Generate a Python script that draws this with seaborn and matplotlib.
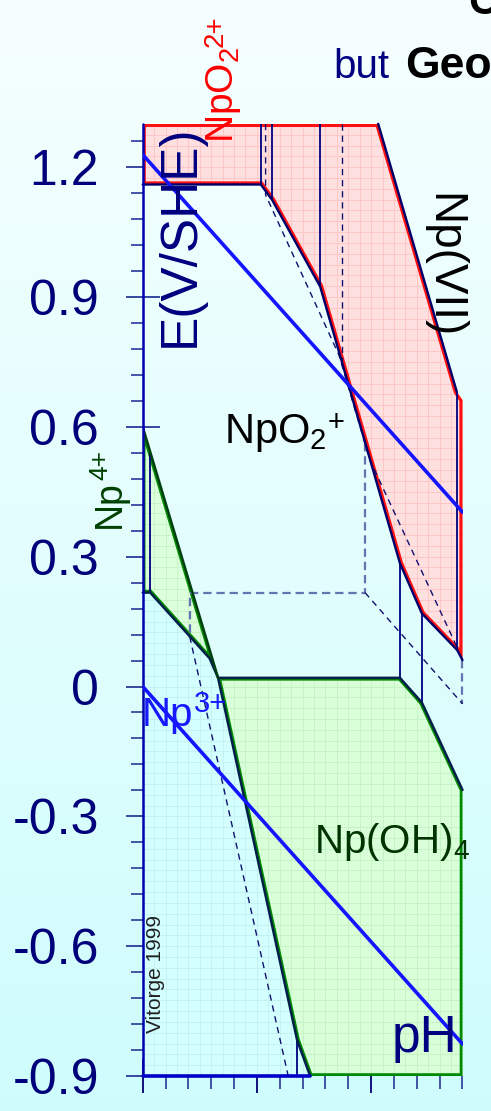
import numpy as np
import pandas as pd
import matplotlib
matplotlib.use("Agg")
import matplotlib.pyplot as plt
from matplotlib.patches import Polygon
import seaborn as sns

sns.set_theme(style="white")
plt.rcParams['font.family'] = ['Liberation Sans', 'DejaVu Sans']
plt.rcParams['mathtext.default'] = 'regular'
plt.rcParams['lines.scale_dashes'] = False

# ---- water stability limits (E in V/SHE versus pH) ----
water_ph = [0, 14]
o2_e = [1.229, 0.403]
h2_e = [0.0, -0.826]

# ---- predominance domains ----
# NpO2(2+) / Np(VII)
np6_ph = [0, 10.31, 13.75, 14.0, 14.0, 13.77, 12.22, 11.26, 7.77, 5.67, 5.17, 0]
np6_e = [1.30, 1.30, 0.681, 0.662, 0.061, 0.084, 0.169, 0.285, 0.924, 1.124, 1.160, 1.160]
# Np4+
np4_ph = [0, 3.30, 2.93, 0.33, 0]
np4_e = [0.60, 0.020, 0.065, 0.217, 0.217]
# Np3+
np3_ph = [0, 0.33, 2.93, 3.30, 6.76, 7.33, 0]
np3_e = [0.217, 0.217, 0.065, 0.020, -0.817, -0.90, -0.90]
# Np(OH)4
npoh_ph = [3.30, 11.26, 12.22, 14.0, 14.0, 7.33, 6.76]
npoh_e = [0.020, 0.020, -0.037, -0.239, -0.90, -0.90, -0.817]

# boundaries
b56_ph = [0, 5.17, 5.67, 7.77, 11.26, 12.22, 13.77, 14.0]
b56_e = [1.160, 1.160, 1.124, 0.924, 0.285, 0.169, 0.084, 0.061]
b67_ph = [10.31, 13.75]
b67_e = [1.30, 0.681]
b34_ph = [0, 0.33, 2.93, 3.30]
b34_e = [0.217, 0.217, 0.065, 0.020]
b45_ph = [0, 3.30]
b45_e = [0.60, 0.020]
boh_ph = [3.30, 11.26, 12.22, 14.0]
boh_e = [0.020, 0.020, -0.037, -0.239]
b3oh_ph = [3.30, 6.76, 7.33]
b3oh_e = [0.020, -0.817, -0.90]

# vertical construction lines: (pH, E top, E bottom)
vert_ph = [5.17, 5.67, 7.77, 13.77, 11.26, 12.22, 0.33, 6.76]
vert_top = [1.30, 1.30, 1.30, 0.681, 0.285, 0.169, 0.539, -0.817]
vert_bot = [1.160, 1.124, 0.924, 0.084, 0.020, -0.037, 0.217, -0.90]

# hidden edges
d1_ph = [5.38, 5.38, 8.59, 9.95, 13.75]
d1_e = [1.30, 1.136, 0.766, 0.523, 0.092]
d2_ph = [8.74, 8.74]
d2_e = [1.30, 0.751]
d3_ph = [2.06, 6.37]
d3_e = [0.115, -0.90]
d4_ph = [9.73, 14.0]
d4_e = [0.217, -0.040]
d5_ph = [9.73, 9.73, 2.06, 2.06]
d5_e = [0.562, 0.217, 0.217, 0.115]
d6_ph = [14.0, 14.0]
d6_e = [0.061, -0.040]

ytick_vals = [-0.9, -0.6, -0.3, 0.0, 0.3, 0.6, 0.9, 1.2]
ytick_labels = ['-0.9', '-0.6', '-0.3', '0', '0.3', '0.6', '0.9', '1.2']
xtick_major = [0, 5, 10]

W, H = 491, 1111
fig = plt.figure(figsize=(W / 100, H / 100), dpi=100)

# background gradient
bg = fig.add_axes([0, 0, 1, 1], zorder=-10)
t = np.linspace(0, 1, 256)[:, None]
top = np.array([0.965, 1.0, 1.0])
bot = np.array([0.81, 0.99, 0.99])
grad = top[None, None, :] * (1 - t[..., None]) + bot[None, None, :] * t[..., None]
grad = np.repeat(grad, 4, axis=1)
bg.imshow(grad, aspect='auto', extent=[0, 1, 0, 1])
bg.axis('off')

x0, x1 = 142.7, 462.5
y_top, y_bot = 123.9, 1076.0
ax = fig.add_axes([x0 / W, 1 - y_bot / H, (x1 - x0) / W, (y_bot - y_top) / H])
ax.set_facecolor('none')
ax.set_xlim(0, 14)
ax.set_ylim(-0.9, 1.30)
for s in ax.spines.values():
    s.set_visible(False)


def region(ph, e, face, edge, lw, grid):
    pts = np.column_stack([ph, e])
    p = Polygon(pts, closed=True, facecolor=face, edgecolor='none', zorder=1)
    ax.add_patch(p)
    gx = np.arange(0, 14.01, 0.5)
    gy = np.arange(-0.9, 1.31, 0.025)
    v = ax.vlines(gx, -0.9, 1.3, colors=grid, lw=0.7, zorder=1.1)
    h = ax.hlines(gy, 0, 14, colors=grid, lw=0.7, zorder=1.1)
    v.set_clip_path(p)
    h.set_clip_path(p)
    if lw > 0:
        ed = Polygon(pts, closed=True, facecolor='none', edgecolor=edge, lw=lw,
                     zorder=1.2)
        ax.add_patch(ed)
        ed.set_clip_path(p)
    return p


region(np3_ph, np3_e, '#d3ffff', '#d3ffff', 0, '#c4f2f2')
region(np4_ph, np4_e, '#dcffdc', '#008a00', 4, '#c6f4c6')
region(npoh_ph, npoh_e, '#d8ffd8', '#008a00', 4, '#c4f4c4')
region(np6_ph, np6_e, '#ffe0e0', '#ff1010', 4.5, '#ffc6c6')

navy = '#000080'
# hidden edges
light = dict(color='#6474b0', lw=1.6, dashes=(6, 3.5), zorder=2)
dark = dict(color='#101070', lw=1.0, dashes=(4.5, 3.5), zorder=2)
ax.plot(d5_ph, d5_e, **light)
ax.plot(d6_ph, d6_e, clip_on=False, **light)
for px, py in [(d1_ph, d1_e), (d2_ph, d2_e), (d3_ph, d3_e), (d4_ph, d4_e)]:
    ax.plot(px, py, **dark)

# vertical construction lines
ax.vlines(vert_ph, vert_bot, vert_top, colors=navy, lw=1.3, zorder=3)

# domain boundaries
for px, py in [(b56_ph, b56_e), (b67_ph, b67_e)]:
    ax.plot(px, py, color='#00006a', lw=1.7, zorder=3, clip_on=False)
for px, py in [(b34_ph, b34_e), (boh_ph, boh_e), (b3oh_ph, b3oh_e)]:
    ax.plot(px, py, color='#00204a', lw=1.8, zorder=3, clip_on=False)
ax.plot(b45_ph, b45_e, color='#004010', lw=1.8, zorder=3)

# axis lines
ax.plot([0, 0], [-0.9, 1.30], color='#0000b0', lw=1.8, zorder=3, clip_on=False)
ax.plot([0, 7.33], [-0.9, -0.9], color='#0000c8', lw=2.6, zorder=3, clip_on=False)

# water limits
wdf = pd.DataFrame({'pH': water_ph * 2, 'E': o2_e + h2_e,
                    'couple': ['O2/H2O'] * 2 + ['H2O/H2'] * 2})
sns.lineplot(data=wdf, x='pH', y='E', units='couple', estimator=None, sort=False,
             color='#1414ff', lw=2.6, ax=ax, zorder=4, legend=False)
ax.set_xlabel('')
ax.set_ylabel('')

# ticks
tick_c = '#3848a0'
ax.set_yticks(ytick_vals)
ax.set_yticklabels(ytick_labels)
ax.set_yticks([v for v in np.round(np.arange(-0.9, 1.27, 0.06), 2)
               if not any(abs(v - m) < 1e-6 for m in ytick_vals)], minor=True)
ax.set_xticks(xtick_major)
ax.set_xticks([v for v in range(15) if v not in xtick_major], minor=True)
ax.tick_params(axis='y', which='major', left=True, direction='inout', length=25,
               width=1.4, color=tick_c, pad=19, labelsize=36, labelcolor='#00007a')
ax.tick_params(axis='y', which='minor', left=True, direction='out', length=9,
               width=1.3, color=tick_c)
ax.tick_params(axis='x', which='major', bottom=True, direction='inout', length=25,
               width=1.4, color='#10107a', labelbottom=False)
ax.tick_params(axis='x', which='minor', bottom=True, direction='out', length=9,
               width=1.3, color=tick_c)


def sup_h(txt, s, base_e, size, color, raise_pt, dx=0.5):
    """Superscript placed right after a horizontal label."""
    return ax.annotate(s, xy=(1, base_e), xycoords=(txt, 'data'),
                       xytext=(dx, raise_pt), textcoords='offset points',
                       ha='left', va='baseline', fontsize=size, color=color,
                       zorder=5, annotation_clip=False)


def sup_v(txt, s, base_ph, size, color, raise_pt, dy=0.5):
    """Superscript placed right after a label written bottom-to-top."""
    return ax.annotate(s, xy=(base_ph, 1), xycoords=('data', txt),
                       xytext=(-raise_pt, dy), textcoords='offset points',
                       rotation=90, rotation_mode='anchor', ha='left',
                       va='baseline', fontsize=size, color=color, zorder=5,
                       annotation_clip=False)


# labels
ax.text(2.22, 0.785, 'E(V/SHE)', rotation=90, rotation_mode='anchor', ha='left',
        va='baseline', fontsize=37, color='#000080', zorder=5)

t6 = ax.text(3.97, 1.255, r'NpO$_2$', rotation=90, rotation_mode='anchor',
             ha='left', va='baseline', fontsize=28, color='#ff0000', zorder=5,
             clip_on=False)
sup_v(t6, '2+', 3.97, 20, '#ff0000', 8)

ax.text(12.65, 1.140, 'Np(VII)', rotation=-90, rotation_mode='anchor', ha='left',
        va='baseline', fontsize=33, color='black', zorder=5, clip_on=False)

t5 = ax.text(3.57, 0.562, r'NpO$_2$', ha='left', va='baseline', fontsize=30,
             color='black', zorder=5)
sup_h(t5, '+', 0.562, 21, 'black', 8.6)

t4 = ax.text(-0.99, 0.366, 'Np', rotation=90, rotation_mode='anchor', ha='left',
             va='baseline', fontsize=27, color='#004000', zorder=5, clip_on=False)
sup_v(t4, '4+', -0.99, 19, '#004000', 9.5)

t3 = ax.text(-0.04, -0.092, 'Np', ha='left', va='baseline', fontsize=29,
             color='#1818ff', zorder=5, clip_on=False)
sup_h(t3, '3+', -0.092, 21, '#1818ff', 10)

ax.text(7.51, -0.385, r'Np(OH)$_4$', ha='left', va='baseline', fontsize=29,
        color='#003300', zorder=5, clip_on=False)
ax.text(10.90, -0.844, 'pH', ha='left', va='baseline', fontsize=37,
        color='#000080', zorder=5)
ax.text(0.82, -0.801, 'Vitorge 1999', rotation=90, rotation_mode='anchor', ha='left',
        va='baseline', fontsize=15, color='#202020', zorder=5)

# heading
fig.text(468 / W, 1 - 14 / H, 'C', fontsize=30, fontweight='bold', color='black',
         ha='left', va='baseline')
fig.text(333.3 / W, 1 - 78.3 / H, 'but', fontsize=29, color='#000080',
         ha='left', va='baseline')
fig.text(405 / W, 1 - 78.3 / H, 'Geo', fontsize=32, fontweight='bold',
         color='black', ha='left', va='baseline')

fig.savefig('out.png', dpi=100)
